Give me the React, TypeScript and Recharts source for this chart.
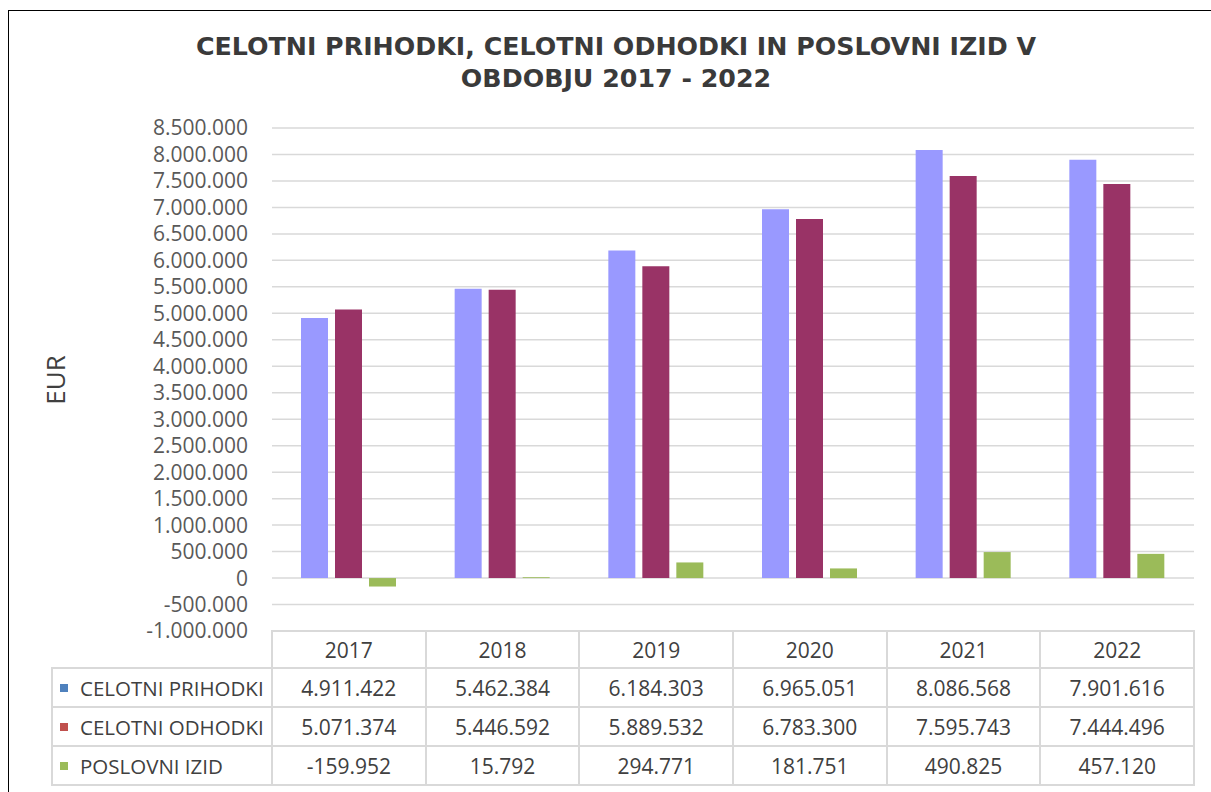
import React from "react"
import { BarChart, Bar, XAxis, YAxis, CartesianGrid } from "recharts"

const years = ["2017", "2018", "2019", "2020", "2021", "2022"]
const prihodki = [4911422, 5462384, 6184303, 6965051, 8086568, 7901616]
const odhodki = [5071374, 5446592, 5889532, 6783300, 7595743, 7444496]
const izid = [-159952, 15792, 294771, 181751, 490825, 457120]
const yTicks = [
    -1000000, -500000, 0, 500000, 1000000, 1500000, 2000000, 2500000, 3000000, 3500000,
    4000000, 4500000, 5000000, 5500000, 6000000, 6500000, 7000000, 7500000, 8000000, 8500000,
]

const series = [
    { key: "prihodki", name: "CELOTNI PRIHODKI", values: prihodki, color: "#9999FF", key_color: "#4F81BD" },
    { key: "odhodki", name: "CELOTNI ODHODKI", values: odhodki, color: "#993366", key_color: "#C0504D" },
    { key: "izid", name: "POSLOVNI IZID", values: izid, color: "#9BBB59", key_color: "#9BBB59" },
]

const data = years.map((y, i) => ({
    year: y,
    prihodki: prihodki[i],
    odhodki: odhodki[i],
    izid: izid[i],
}))

function fmt(v: number) {
    const s = Math.abs(Math.round(v)).toString().replace(/\B(?=(\d{3})+(?!\d))/g, ".")
    return (v < 0 ? "-" : "") + s
}

const font = "'Open Sans', sans-serif"
const gridColor = "#d9d9d9"

// plot area in page coords
const plotLeft = 272
const plotRight = 1194
const plotTop = 128
const plotBottom = 631
const chartW = 1200
const chartH = 660
const colW = (plotRight - plotLeft) / years.length
const labelLeft = 52
const rowTops = [631, 668, 707, 746, 785]

function Cell({ x, y, w, h, children, align = "center", size = 21 }: any) {
    return (
        <div
            style={{
                position: "absolute",
                left: x - 1,
                top: y - 1,
                width: w + 2,
                height: h + 2,
                boxSizing: "border-box",
                border: `2px solid ${gridColor}`,
                display: "flex",
                alignItems: "center",
                justifyContent: align === "left" ? "flex-start" : "center",
                fontFamily: font,
                fontSize: size,
                color: "#404040",
                whiteSpace: "nowrap",
            }}
        >
            {children}
        </div>
    )
}

export default function App() {
    return (
        <div style={{ position: "fixed", left: 0, top: 0, width: 1211, height: 792, overflow: "hidden", background: "#fff" }}>
            <div
                style={{
                    position: "absolute",
                    left: 8,
                    top: 10,
                    width: 1240,
                    height: 820,
                    border: "1px solid #000",
                }}
            />
            <div
                style={{
                    position: "absolute",
                    left: 116,
                    top: 31,
                    width: 1000,
                    textAlign: "center",
                    fontFamily: "'DejaVu Sans', sans-serif",
                    fontWeight: "bold",
                    fontSize: 25.3,
                    lineHeight: "32px",
                    color: "#3a3a3a",
                }}
            >
                CELOTNI PRIHODKI, CELOTNI ODHODKI IN POSLOVNI IZID V
                <br />
                OBDOBJU 2017 - 2022
            </div>
            <div
                style={{
                    position: "absolute",
                    left: 55,
                    top: 380,
                    transform: "translate(-50%, -50%) rotate(-90deg)",
                    fontFamily: font,
                    fontSize: 26,
                    color: "#404040",
                }}
            >
                EUR
            </div>
            <div style={{ position: "absolute", left: 0, top: 0 }}>
                <BarChart
                    width={chartW}
                    height={chartH}
                    data={data}
                    margin={{ top: plotTop, right: chartW - plotRight, bottom: chartH - plotBottom, left: 0 }}
                    barSize={27}
                    barGap={7}
                >
                    <CartesianGrid vertical={false} stroke={gridColor} strokeWidth={1.5} />
                    <XAxis dataKey="year" hide />
                    <YAxis
                        width={plotLeft}
                        domain={[-1000000, 8500000]}
                        ticks={yTicks}
                        interval={0}
                        axisLine={false}
                        tickLine={false}
                        tickSize={0}
                        tickMargin={24}
                        tickFormatter={fmt}
                        tick={{ fill: "#595959", fontSize: 21, fontFamily: font }}
                    />
                    {series.map((s) => (
                        <Bar key={s.key} dataKey={s.key} name={s.name} fill={s.color} isAnimationActive={false} />
                    ))}
                </BarChart>
            </div>
            {years.map((y, i) => (
                <Cell key={y} x={plotLeft + i * colW} y={rowTops[0]} w={colW} h={rowTops[1] - rowTops[0]}>
                    {y}
                </Cell>
            ))}
            {series.map((s, r) => (
                <React.Fragment key={s.key}>
                    <Cell
                        x={labelLeft}
                        y={rowTops[r + 1]}
                        w={plotLeft - labelLeft}
                        h={rowTops[r + 2] - rowTops[r + 1]}
                        align="left"
                        size={20.5}
                    >
                        <span style={{ display: "inline-block", width: 8, height: 8, background: s.key_color, marginLeft: 7, marginRight: 12 }} />
                        {s.name}
                    </Cell>
                    {s.values.map((v, i) => (
                        <Cell key={i} x={plotLeft + i * colW} y={rowTops[r + 1]} w={colW} h={rowTops[r + 2] - rowTops[r + 1]}>
                            {fmt(v)}
                        </Cell>
                    ))}
                </React.Fragment>
            ))}
        </div>
    )
}
